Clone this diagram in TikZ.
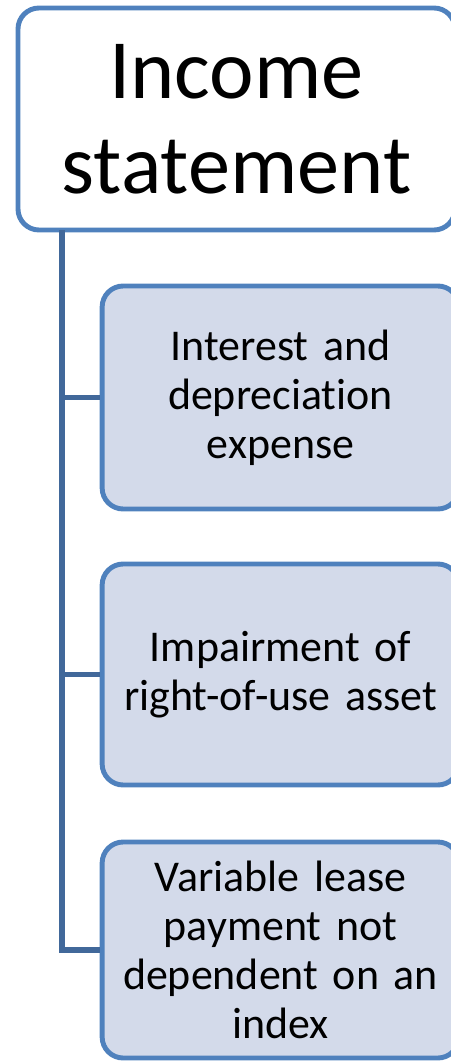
\documentclass[tikz,border=0pt]{standalone}
\usepackage{fontspec}
\setmainfont[Ligatures=NoCommon]{Carlito}
\definecolor{boxline}{HTML}{4F81BD}
\definecolor{boxfill}{HTML}{D3DAEA}
\definecolor{treeline}{HTML}{41689A}
\tikzset{
	headbox/.style={draw=boxline, line width=2.8pt, fill=white, rounded corners=0.42cm, minimum width=8.74cm, minimum height=4.44cm, align=center, font=\fontsize{48}{54}\selectfont},
	itembox/.style={draw=boxline, line width=2.8pt, fill=boxfill, rounded corners=0.42cm, minimum width=6.98cm, text width=6.9cm, align=center, font=\fontsize{25}{28}\selectfont},
	link/.style={draw=treeline, line width=3.4pt}
}
\begin{document}
\begin{tikzpicture}
	\useasboundingbox (0,0) rectangle (9,-21.22);
	\coordinate (trunk) at (1.24,-4.6);
	\draw[link] (trunk) -- (1.24,-19.0);
	\node[headbox] (title) at (4.73,-2.38) {Income\\statement};
	\node[itembox, minimum height=4.46cm] (interest) at (5.61,-7.95) {Interest and\\depreciation\\expense};
	\node[itembox, minimum height=4.42cm] (impair) at (5.61,-13.49) {Impairment of\\right-of-use asset};
	\node[itembox, minimum height=4.32cm] (variable) at (5.61,-19.0) {Variable lease\\payment not\\dependent on an\\index};
	% branches into the left side of each box
	\draw[link] (trunk) |- (interest.west);
	\draw[link] (trunk) |- (impair.west);
	\draw[link] (trunk) |- (variable.west);
\end{tikzpicture}
\end{document}
